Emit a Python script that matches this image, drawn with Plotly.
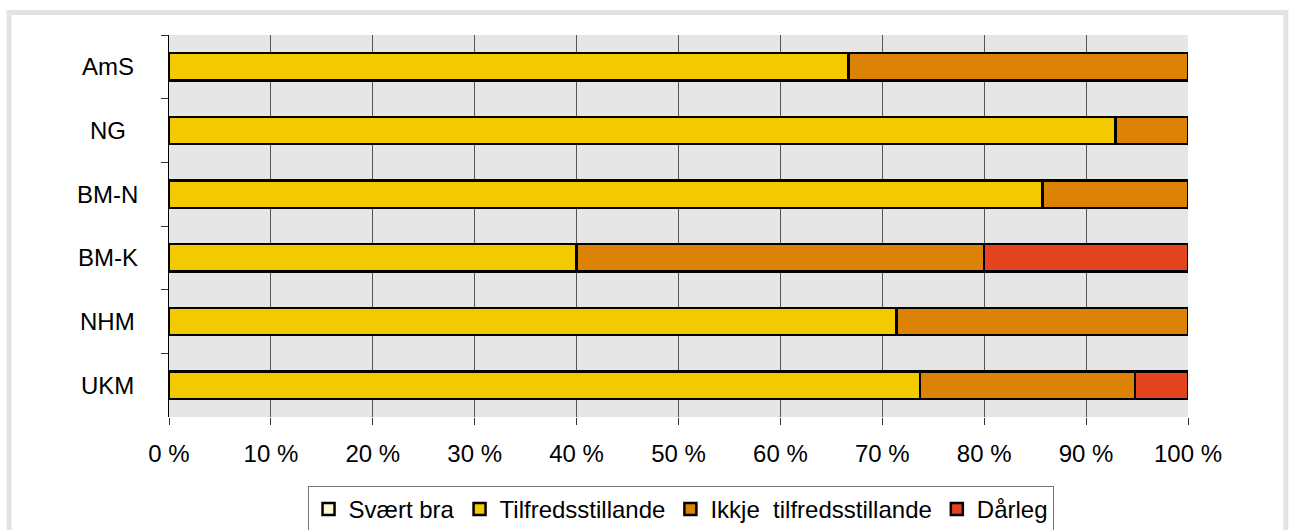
"""Stacked horizontal bars: vurdering per eining"""
import plotly.graph_objects as go

# Data (percent of each unit)
categories = ['AmS', 'NG', 'BM-N', 'BM-K', 'NHM', 'UKM']
svaert_bra = [0, 0, 0, 0, 0, 0]
tilfreds = [66.7, 92.9, 85.7, 40.0, 71.4, 73.7]
ikkje_tilfreds = [33.3, 7.1, 14.3, 40.0, 28.6, 21.1]
daarleg = [0, 0, 0, 20.0, 0, 5.2]
x_ticks = [0, 10, 20, 30, 40, 50, 60, 70, 80, 90, 100]
x_tick_labels = ['0 %', '10 %', '20 %', '30 %', '40 %', '50 %',
                 '60 %', '70 %', '80 %', '90 %', '100 %']

series = [
    ('Svært bra', svaert_bra, '#fff8d2'),
    ('Tilfredsstillande', tilfreds, '#f3ca00'),
    ('Ikkje  tilfredsstillande', ikkje_tilfreds, '#dc8306'),
    ('Dårleg', daarleg, '#e44320'),
]

FONT = 'Liberation Sans, Arial, sans-serif'
FS = 24

fig = go.Figure()
for name, vals, color in series:
    fig.add_trace(go.Bar(
        y=categories, x=vals, name=name, orientation='h',
        marker=dict(color=color, line=dict(color='black', width=2.5)),
    ))

# Category labels, centred left of the axis
for cat in categories:
    fig.add_annotation(x=-0.06, y=cat, xref='paper', yref='y', text=cat,
                       showarrow=False, xanchor='center',
                       font=dict(size=FS, color='black', family=FONT))

fig.update_xaxes(
    range=[0, 100], tickvals=x_ticks, ticktext=x_tick_labels,
    showgrid=True, gridcolor='#555555', gridwidth=1, zeroline=False,
    ticks='outside', ticklen=7, tickcolor='#333333',
    tickfont=dict(size=FS, color='black', family=FONT),
    ticklabelstandoff=8, automargin=False,
)
fig.update_yaxes(
    categoryorder='array', categoryarray=categories, autorange='reversed',
    showticklabels=False, tickson='boundaries', ticks='outside', ticklen=7,
    tickcolor='#333333', showline=True, linecolor='black', linewidth=1,
    showgrid=False, automargin=False,
)

fig.update_layout(
    barmode='stack', bargap=0.57,
    width=1289, height=530,
    margin={'l': 169, 'r': 101, 't': 35, 'b': 113, 'autoexpand': False},
    paper_bgcolor='white', plot_bgcolor='#e6e6e6',
    font=dict(family=FONT, size=FS, color='black'),
    showlegend=True,
    legend=dict(orientation='h', x=0.502, xanchor='center',
                yref='container', y=1 - 486 / 530, yanchor='top',
                bordercolor='#777777', borderwidth=1,
                font=dict(size=FS), traceorder='normal',
                itemwidth=30, tracegroupgap=0),
    shapes=[dict(type='rect', xref='paper', yref='paper',
                 x0=-0.157, x1=1.096, y0=-0.5, y1=1.059,
                 line=dict(color='#e3e3e3', width=5), layer='below')],
)

fig.write_html('out.html', config={'displayModeBar': False},
               post_script="document.body.style.margin='0';")
